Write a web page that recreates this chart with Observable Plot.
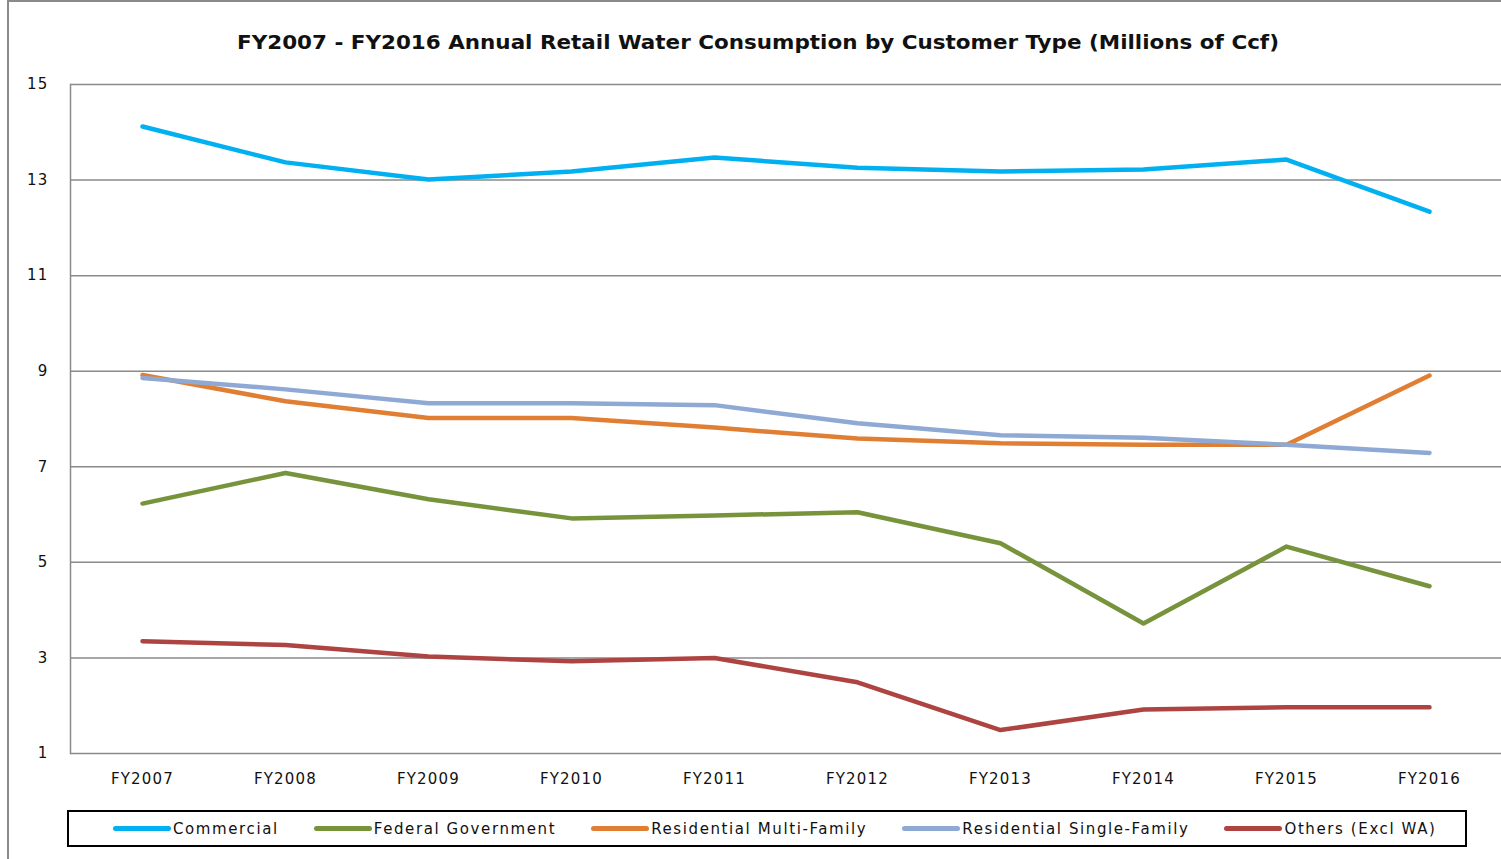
<!DOCTYPE html>
<html>
<head>
<meta charset="utf-8">
<script src="https://cdn.jsdelivr.net/npm/d3@7"></script>
<script src="https://cdn.jsdelivr.net/npm/@observablehq/plot@0.6"></script>
<style>
  html, body { margin: 0; padding: 0; background: #fff; }
  #wrap { position: relative; width: 1501px; height: 859px; overflow: hidden; background: #fff; font-family: "DejaVu Sans", Verdana, sans-serif; }
  #frame { position: absolute; left: 7px; top: 0px; width: 1520px; height: 900px; border-left: 2px solid #8a8a8a; border-top: 2px solid #8a8a8a; box-sizing: border-box; }
  #chart { position: absolute; left: 0; top: 0; }
  #title { position: absolute; left: 0; top: 0; }
  #legend { position: absolute; left: 67px; top: 810px; width: 1400px; height: 37px; border: 2px solid #000; box-sizing: border-box; display: flex; align-items: center; padding-left: 44px; gap: 35px; font-size: 15px; letter-spacing: 1.6px; color: #111; }
  .item { display: flex; align-items: center; white-space: nowrap; }
  .sw { display: inline-block; width: 58px; height: 4.5px; border-radius: 3px; margin-right: 2px; }
</style>
</head>
<body>
<div id="wrap">
  <div id="frame"></div>
  <div id="chart"></div>
  <svg id="title" width="1501" height="70">
    <text id="titleText" x="758" y="49" text-anchor="middle" font-family="DejaVu Sans, Verdana, sans-serif" font-weight="bold" font-size="20" fill="#111" textLength="1042" lengthAdjust="spacingAndGlyphs"></text>
  </svg>
  <div id="legend"></div>
</div>
<script>
const titleLabel = "FY2007 - FY2016  Annual Retail Water Consumption by Customer Type (Millions of Ccf)";
const years = ["FY2007","FY2008","FY2009","FY2010","FY2011","FY2012","FY2013","FY2014","FY2015","FY2016"];
const seriesNames = ["Commercial","Federal Government","Residential Multi-Family","Residential Single-Family","Others (Excl WA)"];
const commercial   = [14.12, 13.37, 13.01, 13.18, 13.47, 13.26, 13.18, 13.22, 13.43, 12.34];
const federal      = [6.23, 6.87, 6.32, 5.92, 5.98, 6.05, 5.40, 3.72, 5.33, 4.50];
const multiFamily  = [8.92, 8.37, 8.02, 8.02, 7.82, 7.59, 7.49, 7.46, 7.46, 8.91];
const singleFamily = [8.86, 8.62, 8.33, 8.33, 8.29, 7.91, 7.66, 7.61, 7.46, 7.29];
const others       = [3.35, 3.27, 3.03, 2.93, 3.00, 2.49, 1.49, 1.92, 1.97, 1.97];
const yTicks = [1, 3, 5, 7, 9, 11, 13, 15];

const seriesValues = [commercial, federal, multiFamily, singleFamily, others];
const seriesColors = ["#00b0f0", "#77933c", "#e07f33", "#8ea9d4", "#ad4442"];

const rows = [];
seriesNames.forEach((s, i) => {
  years.forEach((yr, j) => rows.push({series: s, year: yr, value: seriesValues[i][j]}));
});

document.getElementById("titleText").textContent = titleLabel;

const chart = Plot.plot({
  width: 1501,
  height: 800,
  marginLeft: 70,
  marginRight: 0,
  marginTop: 84,
  marginBottom: 47,
  style: {fontFamily: "DejaVu Sans, Verdana, sans-serif", fontSize: "15px", color: "#111", background: "transparent", letterSpacing: "1.2px"},
  x: {type: "point", domain: years, padding: 0.5, label: null},
  y: {domain: [1, 15], label: null},
  color: {domain: seriesNames, range: seriesColors},
  marks: [
    Plot.ruleY(yTicks, {stroke: "#8a8a8a", strokeWidth: 1.5}),
    Plot.frame({anchor: "left", stroke: "#8a8a8a", strokeWidth: 1.5}),
    Plot.axisY({ticks: yTicks, tickSize: 0, tickPadding: 22, label: null, fill: "#111"}),
    Plot.axisX({tickSize: 0, tickPadding: 20, label: null, fill: "#111"}),
    Plot.lineY(rows, {x: "year", y: "value", z: "series", stroke: "series", strokeWidth: 4.5, strokeLinecap: "round", strokeLinejoin: "round"})
  ]
});
document.getElementById("chart").appendChild(chart);

const legend = document.getElementById("legend");
seriesNames.forEach((s, i) => {
  const item = document.createElement("div");
  item.className = "item";
  const sw = document.createElement("span");
  sw.className = "sw";
  sw.style.background = seriesColors[i];
  const t = document.createElement("span");
  t.textContent = s;
  item.appendChild(sw);
  item.appendChild(t);
  legend.appendChild(item);
});
</script>
</body>
</html>
